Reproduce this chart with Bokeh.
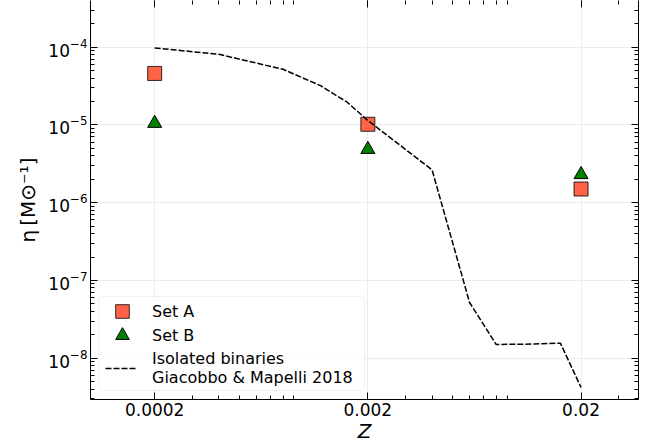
from bokeh.embed import file_html
from bokeh.models import (BoxAnnotation, ColumnDataSource, FixedTicker,
                          Legend, LegendItem, LogAxis, Range1d)
from bokeh.plotting import figure
from bokeh.resources import INLINE

# Metallicities of the simulated sets
metallicity = [0.0002, 0.002, 0.02]

# Merger efficiency eta [Msun^-1] for each set
eta_set_a = [4.6e-5, 1.02e-5, 1.5e-6]
eta_set_b = [1.05e-5, 4.85e-6, 2.3e-6]

# Isolated binaries (Giacobbo & Mapelli 2018)
gm18_z = [0.0002, 0.0004, 0.0008, 0.0012, 0.0016, 0.002,
          0.004, 0.006, 0.008, 0.012, 0.016, 0.02]
gm18_eta = [9.8e-5, 8.1e-5, 5.2e-5, 3.2e-5, 1.96e-5, 1.14e-5,
            2.65e-6, 5.2e-8, 1.5e-8, 1.52e-8, 1.56e-8, 4.2e-9]

# Axis ticks
z_ticks = [0.0002, 0.002, 0.02]
z_tick_labels = ["0.0002", "0.002", "0.02"]
z_minor = [k * 10.0 ** e for e in (-4, -3, -2) for k in range(2, 10)]
eta_ticks = [1e-8, 1e-7, 1e-6, 1e-5, 1e-4]
eta_minor = [k * 10.0 ** e for e in range(-9, -3) for k in range(2, 10)]

FONT = "DejaVu Sans"

src_a = ColumnDataSource(dict(z=metallicity, eta=eta_set_a))
src_b = ColumnDataSource(dict(z=metallicity, eta=eta_set_b))
src_gm = ColumnDataSource(dict(z=gm18_z, eta=gm18_eta))

p = figure(
    width=649, height=446,
    x_axis_type="log", y_axis_type="log",
    x_range=Range1d(1e-4, 0.0372), y_range=Range1d(2.94e-9, 3.99e-4),
    output_backend="svg", toolbar_location=None, title=None,
    min_border_left=90, min_border_right=11,
    min_border_top=0, min_border_bottom=47,
)
p.outline_line_color = None
p.background_fill_color = "white"
p.border_fill_color = "white"

x_ticker = FixedTicker(ticks=z_ticks, minor_ticks=z_minor)
y_ticker = FixedTicker(ticks=eta_ticks, minor_ticks=eta_minor)


def style_axis(ax):
    ax.axis_line_color = "black"
    ax.axis_line_width = 1
    ax.major_tick_in = 7
    ax.major_tick_out = 0
    ax.minor_tick_in = 4
    ax.minor_tick_out = 0
    ax.major_tick_line_color = "black"
    ax.minor_tick_line_color = "black"
    ax.major_tick_line_width = 1
    ax.minor_tick_line_width = 1
    ax.major_label_text_font = FONT
    ax.major_label_text_font_size = "17px"
    ax.major_label_text_color = "black"
    ax.axis_label_text_font = FONT
    ax.axis_label_text_color = "black"


bottom = p.xaxis[0]
bottom.ticker = x_ticker
bottom.major_label_overrides = dict(zip(z_ticks, z_tick_labels))
style_axis(bottom)
bottom.major_label_standoff = 3
bottom.axis_label = "Z"
bottom.axis_label_text_font_size = "20px"
bottom.axis_label_text_font_style = "italic"
bottom.axis_label_standoff = 0

left = p.yaxis[0]
left.ticker = y_ticker
style_axis(left)
left.major_label_standoff = 3
left.axis_label = "η\u2009[M⊙⁻¹]"
left.axis_label_text_font_size = "20px"
left.axis_label_text_font_style = "normal"
left.axis_label_standoff = 5

p.xgrid.ticker = x_ticker
p.ygrid.ticker = y_ticker
for g in (p.xgrid, p.ygrid):
    g.grid_line_color = "#ececec"
    g.grid_line_width = 1

# mirrored ticks on the top and right edges (labels kept tiny and invisible)
top = LogAxis(ticker=x_ticker)
style_axis(top)
top.axis_line_color = None
top.major_label_text_font_size = "1px"
top.major_label_text_alpha = 0
top.major_label_standoff = 0
p.add_layout(top, "above")

right = LogAxis(ticker=y_ticker)
style_axis(right)
right.major_label_text_font_size = "1px"
right.major_label_text_alpha = 0
right.major_label_standoff = 0
p.add_layout(right, "right")

# data
r_b = p.scatter("z", "eta", source=src_b, marker="triangle", size=14,
                fill_color="green", line_color="black", line_width=1)
r_a = p.scatter("z", "eta", source=src_a, marker="square", size=14,
                fill_color="#ff6347", line_color="black", line_alpha=0.8,
                line_width=1)
r_gm = p.line("z", "eta", source=src_gm, line_color="black", line_width=1.5,
              line_dash="6 2")

# legend frame
p.add_layout(BoxAnnotation(
    left=8.3, right=274, bottom=9, top=103,
    left_units="screen", right_units="screen",
    bottom_units="screen", top_units="screen",
    fill_color="white", fill_alpha=0.8,
    line_color="#cccccc", line_width=1, border_radius=4,
))


def add_legend(label, renderer, loc, gw, gh, standoff):
    lg = Legend(items=[LegendItem(label=label, renderers=[renderer])],
                location=loc)
    lg.border_line_color = None
    lg.background_fill_alpha = 0
    lg.padding = 0
    lg.margin = 0
    lg.spacing = 0
    lg.glyph_width = gw
    lg.glyph_height = gh
    lg.label_standoff = standoff
    lg.label_text_font = FONT
    lg.label_text_font_size = "16px"
    lg.label_text_color = "black"
    p.add_layout(lg)


add_legend("Set A", r_a, (15, 71), 34, 34, 13)
add_legend("Set B", r_b, (15, 47), 34, 34, 13)
add_legend("Isolated binaries\nGiacobbo & Mapelli 2018", r_gm, (15, 12), 32, 20, 15)

open("out.html", "w").write(file_html(p, INLINE))
